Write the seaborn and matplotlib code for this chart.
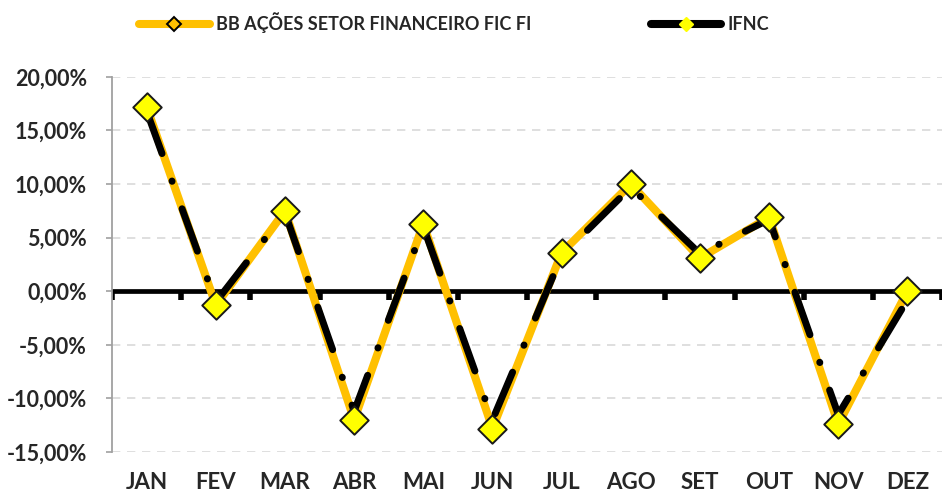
import numpy as np
import pandas as pd
import matplotlib
matplotlib.use("Agg")
import matplotlib.pyplot as plt
from matplotlib.lines import Line2D
from matplotlib.ticker import FuncFormatter, MultipleLocator
import seaborn as sns

# Monthly returns (%)
months = ["JAN", "FEV", "MAR", "ABR", "MAI", "JUN", "JUL", "AGO", "SET", "OUT", "NOV", "DEZ"]
bb_fund = [17.2, -1.3, 7.5, -12.0, 6.3, -12.8, 3.6, 10.0, 3.1, 6.9, -12.4, 0.0]
ifnc = [16.8, -1.0, 7.3, -11.2, 6.0, -12.0, 3.3, 9.7, 3.5, 6.7, -11.5, -0.8]
series_names = ["BB AÇÕES SETOR FINANCEIRO FIC FI", "IFNC"]

df = pd.DataFrame({"mes": np.arange(len(months)), "bb": bb_fund, "ifnc": ifnc})

sns.set_style("white")
plt.rcParams["font.family"] = ["Lato", "DejaVu Sans"]
plt.rcParams["font.weight"] = "bold"

gold = "#FFC000"
fig = plt.figure(figsize=(9.42, 4.99), dpi=100)
ax = fig.add_axes([0.119, 0.094, 0.881, 0.752])

# category axis crossing at zero, with tick marks between months
boundaries = np.arange(-0.5, len(months))
ax.axhline(0, color="black", linewidth=3.4, zorder=2)
ax.vlines(boundaries, -0.8, 0, colors="black", linewidths=4, zorder=2.5)

# thick gold line for the fund, dash-dot black for the index on top
sns.lineplot(data=df, x="mes", y="bb", ax=ax, color=gold, linewidth=5.8,
             solid_capstyle="round", zorder=3)
sns.lineplot(data=df, x="mes", y="ifnc", ax=ax, color="black", linewidth=5,
             linestyle=(0, (6.5, 4.2, 0.05, 4.2)), dash_capstyle="round", zorder=4)
sns.scatterplot(data=df, x="mes", y="bb", ax=ax, marker="D", s=210,
                color="#FFFF00", edgecolor="#1a1a1a", linewidth=1.4, zorder=6)

ax.set_ylim(-15, 20)
ax.set_xlim(-0.5, len(months) - 0.5)
ax.yaxis.set_major_locator(MultipleLocator(5))
ax.yaxis.set_major_formatter(FuncFormatter(lambda v, p: f"{v:.2f}%".replace(".", ",")))
ax.grid(axis="y", color="#D9D9D9", linestyle=(0, (5, 4)), linewidth=1.2, zorder=0)
ax.set_axisbelow(True)
ax.set_xlabel("")
ax.set_ylabel("")

for s in ["top", "right", "bottom"]:
    ax.spines[s].set_visible(False)
ax.spines["left"].set_color("#A0A0A0")
ax.spines["left"].set_linewidth(1.3)
ax.tick_params(axis="y", direction="out", length=4, width=1.2, color="#A0A0A0",
               labelsize=15.5, pad=14, left=True)
for lbl in ax.get_yticklabels():
    lbl.set_fontweight("bold")

# month labels at the bottom of the plot area
ax.set_xticks(np.arange(len(months)))
ax.set_xticklabels(months, fontsize=16, fontweight="bold")
ax.tick_params(axis="x", length=0, pad=14)

handles = [
    Line2D([], [], color=gold, linewidth=5.8, solid_capstyle="round", marker="D",
           markersize=7, markerfacecolor=gold, markeredgecolor="black", markeredgewidth=1.4),
    Line2D([], [], color="black", linewidth=5.8, solid_capstyle="round", marker="D",
           markersize=7, markerfacecolor="#FFFF00", markeredgecolor="#FFFF00"),
]
fig.legend(handles, series_names, loc="center", bbox_to_anchor=(0.482, 0.955), ncol=2,
           frameon=False, handlelength=3.9, handletextpad=0.35, columnspacing=6.6,
           prop={"size": 13, "weight": "bold"})

fig.savefig("out.png", dpi=100)
